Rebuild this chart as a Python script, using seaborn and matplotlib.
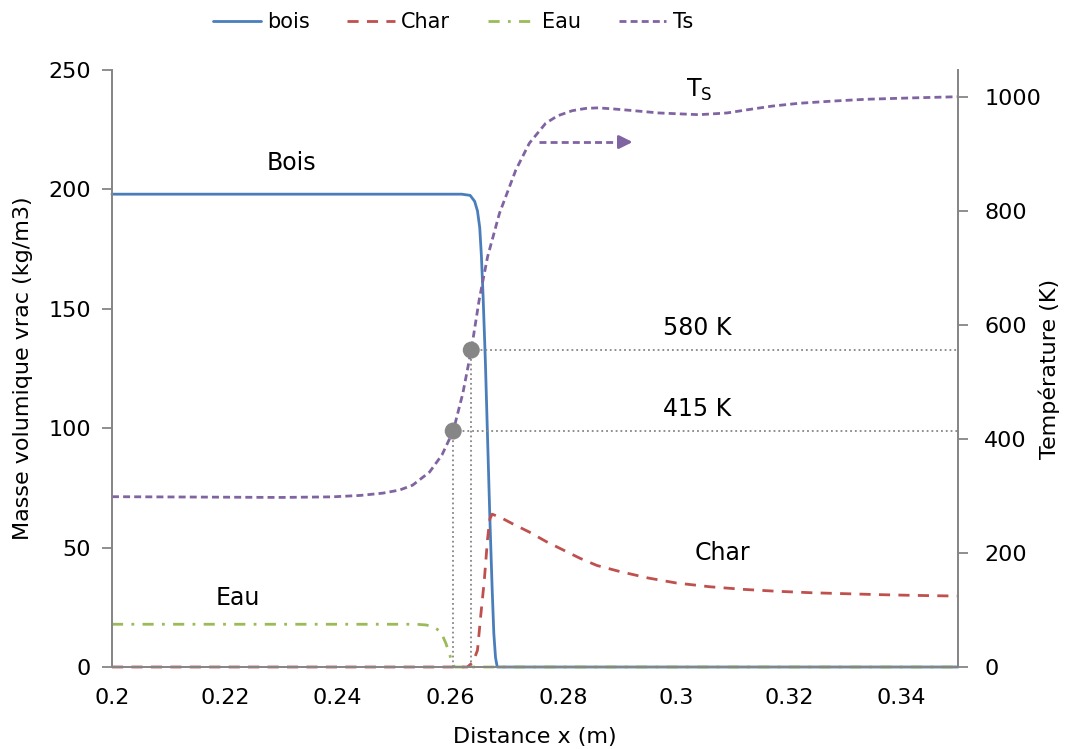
import matplotlib
matplotlib.use("Agg")
import matplotlib.pyplot as plt
import seaborn as sns

# valeurs
x_bois = [0.2, 0.262, 0.2635, 0.2643, 0.2648, 0.2652, 0.2655, 0.2658, 0.2662, 0.2666,
          0.2670, 0.2674, 0.2677, 0.2680, 0.2683, 0.35]
bois = [198, 198, 197.5, 195, 191, 184, 172, 155, 128, 95, 62, 33, 14, 4, 0, 0]

x_char = [0.2, 0.2630, 0.2640, 0.2648, 0.2654, 0.2660, 0.2666, 0.2670, 0.2674, 0.2690,
          0.2710, 0.2740, 0.2770, 0.2800, 0.2830, 0.2860, 0.2900, 0.2950, 0.3000, 0.3060,
          0.3120, 0.3180, 0.3240, 0.3300, 0.3360, 0.3420, 0.3500]
char = [0, 0, 2, 7, 22, 36, 54, 62, 64, 62.5, 60, 56.5, 52.5, 49, 45.5, 42.5, 40, 37.3,
        35.2, 33.6, 32.5, 31.7, 31.1, 30.7, 30.3, 30, 29.7]

x_eau = [0.2, 0.254, 0.2557, 0.2570, 0.2583, 0.2592, 0.2599, 0.2604, 0.2608, 0.35]
eau = [17.9, 17.9, 17.6, 16.8, 14.8, 9.9, 5, 1, 0, 0]

x_ts = [0.2, 0.23, 0.239, 0.244, 0.248, 0.251, 0.2533, 0.2563, 0.2585, 0.2605, 0.2622,
        0.2637, 0.2651, 0.2666, 0.2687, 0.2716, 0.274, 0.2769, 0.2790, 0.2816, 0.2840,
        0.2862, 0.2890, 0.2920, 0.2970, 0.3041, 0.3090, 0.3129, 0.3170, 0.3218, 0.3280,
        0.3336, 0.3420, 0.35]
ts = [298.8, 297.5, 298.5, 301, 305, 310.5, 319, 342, 372, 414, 480, 556, 644, 720, 796,
      872, 919, 954, 967, 976, 980, 981, 979, 976.5, 972, 969, 972, 978, 984, 989, 993,
      996, 998.5, 1000.5]

# points marqués (T = 415 K et 580 K)
x_points = [0.2605, 0.2637]
t_points = [414, 556]
labels_points = ["415 K", "580 K"]

x_ticks = [0.2, 0.22, 0.24, 0.26, 0.28, 0.3, 0.32, 0.34]
x_ticklabels = ["0.2", "0.22", "0.24", "0.26", "0.28", "0.3", "0.32", "0.34"]
y_ticks = [0, 50, 100, 150, 200, 250]
t_ticks = [0, 200, 400, 600, 800, 1000]

BLEU = "#4A7EBB"
ROUGE = "#C0504D"
VERT = "#9BBB59"
VIOLET = "#8064A2"
GRIS = "#868686"

sns.set_style("white")
plt.rcParams["font.family"] = ["DejaVu Sans"]
plt.rcParams["text.color"] = "black"
plt.rcParams["axes.labelcolor"] = "black"

fig = plt.figure(figsize=(10.65, 7.49), dpi=100)
ax = fig.add_axes([112 / 1065, 1 - 667 / 749, (958 - 112) / 1065, (667 - 70) / 749])
ax2 = ax.twinx()

lw = 2
sns.lineplot(x=x_bois, y=bois, ax=ax, color=BLEU, lw=lw, label="bois", clip_on=False)
sns.lineplot(x=x_char, y=char, ax=ax, color=ROUGE, lw=lw, label="Char", clip_on=False)
ax.lines[-1].set_dashes((4, 3))
sns.lineplot(x=x_eau, y=eau, ax=ax, color=VERT, lw=lw, label="Eau", clip_on=False)
ax.lines[-1].set_dashes((4, 3, 1, 3))
sns.lineplot(x=x_ts, y=ts, ax=ax2, color=VIOLET, lw=lw, label="Ts", clip_on=False)
ax2.lines[-1].set_dashes((2.5, 1.5))

# lignes pointillées + points gris
for xp, tp in zip(x_points, t_points):
    ax2.plot([xp, 0.35], [tp, tp], ls=":", color=GRIS, lw=1.3)
    ax2.plot([xp, xp], [0, tp], ls=":", color=GRIS, lw=1.3)
sns.scatterplot(x=x_points, y=t_points, ax=ax2, color=GRIS, s=150, edgecolor="none", zorder=5)

# flèche Ts -> axe de droite
ax2.plot([0.2757, 0.2912], [921, 921], color=VIOLET, lw=lw, dashes=(2.5, 1.5))
ax2.annotate("", xy=(0.2928, 921), xytext=(0.2905, 921),
             arrowprops=dict(arrowstyle="-|>", color=VIOLET, lw=lw, mutation_scale=20))

ax.set_xlim(0.2, 0.35)
ax.set_ylim(0, 250)
ax2.set_ylim(0, 1047.4)
ax.set_xticks(x_ticks)
ax.set_xticklabels(x_ticklabels)
ax.set_yticks(y_ticks)
ax2.set_yticks(t_ticks)

ax.set_xlabel("Distance x (m)", fontsize=16)
ax.set_ylabel("Masse volumique vrac (kg/m3)", fontsize=16)
ax2.set_ylabel("Température (K)", fontsize=16)
ax.xaxis.set_label_coords(0.5, (667 - 727) / 597)
ax.yaxis.set_label_coords((33 - 112) / 846, 0.5)
ax2.yaxis.set_label_coords((1039 - 112) / 846, 0.5)

for a in (ax, ax2):
    for s in a.spines.values():
        s.set_color(GRIS)
        s.set_linewidth(1.3)
    a.spines["top"].set_visible(False)
    a.tick_params(colors=GRIS, labelcolor="black", length=7, width=1.3, labelsize=16,
                  direction="out")
ax.tick_params(axis="x", pad=8)
ax.tick_params(axis="y", pad=8)
ax2.tick_params(axis="y", pad=12)

# étiquettes dans le graphique
ax.text(0.2319, 211, "Bois", fontsize=17, ha="center", va="center")
ax.text(0.3083, 47.7, "Char", fontsize=17, ha="center", va="center")
ax.text(0.2223, 28.9, "Eau", fontsize=17, ha="center", va="center")
ax.text(0.3037, 142, labels_points[1], fontsize=17, ha="center", va="center")
ax.text(0.3037, 108, labels_points[0], fontsize=17, ha="center", va="center")
ax.text(0.3041, 241.6, r"T$_\mathregular{S}$", fontsize=17, ha="center", va="center")

# légende commune en haut
h1, l1 = ax.get_legend_handles_labels()
h2, l2 = ax2.get_legend_handles_labels()
ax.get_legend().remove()
ax2.get_legend().remove()
fig.legend(h1 + h2, l1 + l2, loc="center left", bbox_to_anchor=(194 / 1065, 1 - 22 / 749),
           ncol=4, frameon=False, fontsize=15, handlelength=2.3, columnspacing=1.8,
           handletextpad=0.3)

fig.savefig("out.png", dpi=100)
